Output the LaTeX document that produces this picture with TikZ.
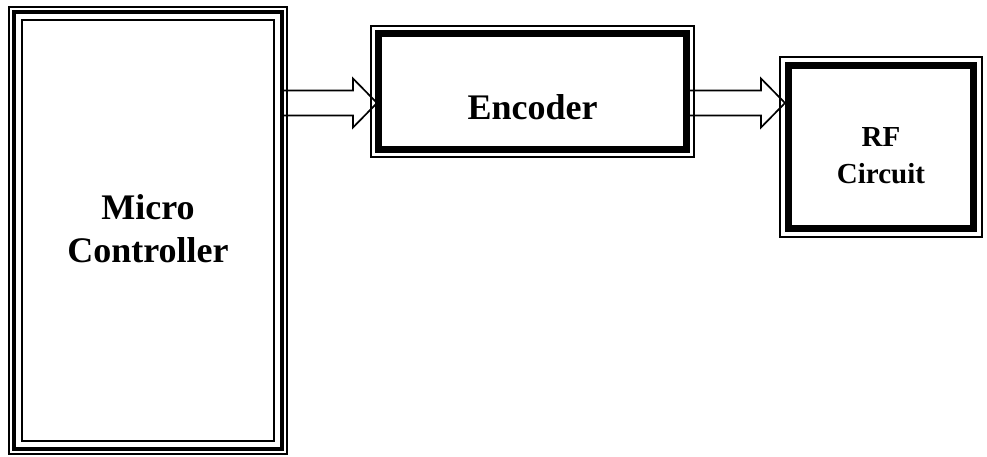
\documentclass[tikz,border=0pt]{standalone}
\usepackage{fontspec}
\setmainfont{Liberation Serif}
\usetikzlibrary{calc}
\begin{document}
\begin{tikzpicture}[x=1pt,y=-1pt,
  outerbox/.style={draw=black, line width=1.2pt, inner sep=0pt, outer sep=0pt, anchor=north west},
  thickline/.style={draw=black, line width=#1},
  blk/.style={draw=black, line width=1.7pt, fill=white, line join=miter},
  lbl/.style={font=\bfseries, align=center, inner sep=0pt, anchor=base}
]
\useasboundingbox (0,0) rectangle (987,457);
% arrows (drawn first, boxes drawn over)
\coordinate (a1s) at (283,103);
\coordinate (a1e) at (377,103);
\coordinate (a2s) at (689,103);
\coordinate (a2e) at (785,103);
\foreach \s/\e in {a1s/a1e,a2s/a2e}{
  \draw[blk] ($(\s)+(0,-12.5)$) -- ($(\e)+(-24,-12.5)$) -- ($(\e)+(-24,-24.5)$) -- (\e)
    -- ($(\e)+(-24,24.5)$) -- ($(\e)+(-24,12.5)$) -- ($(\s)+(0,12.5)$) -- cycle;
}
% Micro Controller box
\node[outerbox, minimum width=278pt, minimum height=447pt] (mc) at (9,7) {};
\draw[thickline=4.5pt] ($(mc.north west)+(5,5)$) rectangle ($(mc.south east)+(-5,-5)$);
\draw[thickline=1.8pt] ($(mc.north west)+(13,13)$) rectangle ($(mc.south east)+(-13,-13)$);
% Encoder box
\node[outerbox, minimum width=323pt, minimum height=131pt] (enc) at (371,26) {};
\draw[thickline=7pt] ($(enc.north west)+(7.8,7.8)$) rectangle ($(enc.south east)+(-7.8,-7.8)$);
% RF box
\node[outerbox, minimum width=202pt, minimum height=180pt] (rf) at (780,57) {};
\draw[thickline=7pt] ($(rf.north west)+(8.3,8.3)$) rectangle ($(rf.south east)+(-8.3,-8.3)$);
% labels
\node[lbl, font=\fontsize{36}{43}\bfseries\selectfont] (mct) at ($(mc.north)+(0,255)$) {Micro\\Controller};
\node[lbl, font=\fontsize{36}{43}\bfseries\selectfont] (enct) at ($(enc.north)+(0,94)$) {Encoder};
\node[lbl, font=\fontsize{29}{36}\bfseries\selectfont] (rft) at ($(rf.north)+(0,126)$) {RF\\Circuit};
\end{tikzpicture}
\end{document}
